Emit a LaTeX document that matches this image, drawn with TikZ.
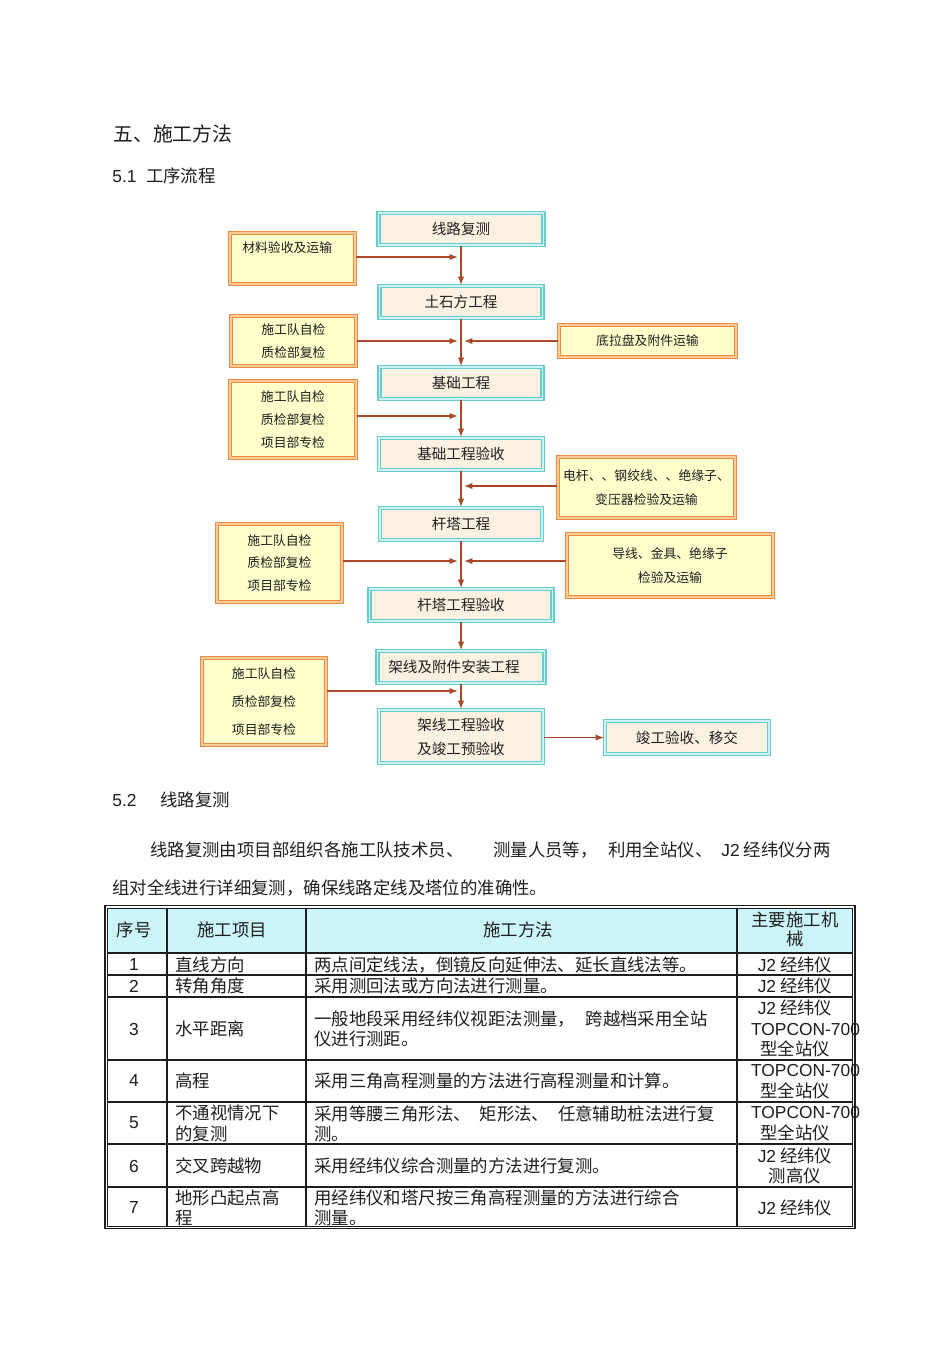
\documentclass[tikz,border=0pt]{standalone}
\usepackage{fontspec}
\setmainfont{Noto Sans CJK SC}
\newfontfamily\lat{Liberation Sans}
\usepackage{tikz}
\usetikzlibrary{arrows.meta}
\definecolor{arrowc}{RGB}{168,72,40}
\definecolor{tealc}{RGB}{105,205,208}
\definecolor{tealgap}{RGB}{205,242,242}
\definecolor{boxfill}{RGB}{250,241,226}
\definecolor{orc}{RGB}{238,138,68}
\definecolor{orgap}{RGB}{252,204,150}
\definecolor{yelfill}{RGB}{255,255,204}
\definecolor{headc}{RGB}{204,245,250}
\definecolor{txtc}{RGB}{30,30,30}
\def\px{0.02cm}

\tikzset{
  main/.style={draw=tealc, double=tealgap, line width=0.6pt,
    double distance=1.1pt, fill=boxfill, inner sep=0pt, align=center,
    text=txtc, font=\fontsize{8.3}{14}\selectfont},
  side/.style={draw=orc, double=orgap, line width=0.6pt,
    double distance=1.1pt, fill=yelfill, inner sep=0pt, align=center,
    text=txtc, font=\fontsize{7.3}{13}\selectfont},
  flow/.style={draw=arrowc, line width=1pt, -{Latex[length=5pt,width=3.6pt]}},
  cell/.style={inner sep=0pt, anchor=west, align=left, text=txtc,
    font=\fontsize{9.9}{11.6}\selectfont},
  mid/.style={cell, anchor=center, align=center},
  rule/.style={line width=0.6pt, draw=txtc}
}

\begin{document}
\begin{tikzpicture}[x=\px, y=-\px]

    \path[fill=white, use as bounding box] (0,0) rectangle (950,1346);

    % page headings
    \node[cell, font=\fontsize{11.3}{13}\selectfont] (sec) at (113,134)
    {五、施工方法};
    \node[cell] (sub1) at (112,176) {{\lat 5.1}\hspace{5.5pt}工序流程};

    % main line of work
    \begin{scope}
        \node[main, minimum width=165*\px, minimum height=32*\px] (b1)
        at (461,229) {线路复测};
        \node[main, minimum width=163*\px, minimum height=32*\px] (b2)
        at (461,302) {土石方工程};
        \node[main, minimum width=163*\px, minimum height=32*\px] (b3)
        at (461,383) {基础工程};
        \node[main, minimum width=164*\px, minimum height=32*\px] (b4)
        at (461,454) {基础工程验收};
        \node[main, minimum width=162*\px, minimum height=32*\px] (b5)
        at (461,524) {杆塔工程};
        \node[main, minimum width=183*\px, minimum height=32*\px] (b6)
        at (461,605) {杆塔工程验收};
        \node[main, minimum width=167*\px, minimum height=32*\px] (b7)
        at (461,667) {架线及附件安装工程\hspace*{8pt}};
        \node[main, minimum width=164*\px, minimum height=53*\px,
        font=\fontsize{8.3}{13.6}\selectfont] (b8)
        at (461,736.5) {架线工程验收\\及竣工预验收};
        \node[main, minimum width=164*\px, minimum height=33*\px] (b9)
        at (687,737.5) {竣工验收、移交};
    \end{scope}

    % checks and deliveries beside the line
    \begin{scope}
        \node[side, minimum width=125*\px, text height=11pt, text depth=17.9pt]
        (mat) at (292.5,258.5) {材料验收及运输\hspace*{6pt}};
        \node[side, minimum width=125*\px, minimum height=50*\px] (chk1)
        at (293.5,341) {施工队自检\\质检部复检};
        \node[side, minimum width=126*\px, minimum height=77*\px] (chk2)
        at (293,419.5) {施工队自检\\质检部复检\\项目部专检};
        \node[side, minimum width=125*\px, minimum height=78*\px] (chk3)
        at (279.5,563) {施工队自检\\质检部复检\\项目部专检};
        \node[side, minimum width=124*\px, minimum height=87*\px,
        font=\fontsize{7.3}{16}\selectfont] (chk4)
        at (264,701.5) {施工队自检\\质检部复检\\项目部专检};

        \node[side, minimum width=177*\px, minimum height=32*\px] (base)
        at (647.5,341) {底拉盘及附件运输};
        \node[side, minimum width=177*\px, minimum height=61*\px,
        font=\fontsize{7.3}{14}\selectfont] (pole)
        at (646.5,487.5) {电杆、、钢绞线、、绝缘子、\\变压器检验及运输};
        \node[side, minimum width=206*\px, minimum height=63*\px,
        font=\fontsize{7.3}{14}\selectfont] (wire)
        at (670,565.5) {导线、金具、绝缘子\\检验及运输};
    \end{scope}

    % points where the side arrows meet the line
    \coordinate (j1) at (461,257);
    \coordinate (j2) at (461,341);
    \coordinate (j3) at (461,416);
    \coordinate (j4) at (461,486);
    \coordinate (j5) at (461,561);
    \coordinate (j6) at (461,691);

    \begin{scope}
        \draw[flow] (b1) -- (b2);
        \draw[flow] (b2) -- (b3);
        \draw[flow] (b3) -- (b4);
        \draw[flow] (b4) -- (b5);
        \draw[flow] (b5) -- (b6);
        \draw[flow] (b6) -- (b7);
        \draw[flow] (b7) -- (b8);
        \draw[flow] (b8.east |- b9) -- (b9);
        \draw[flow, shorten >=1.5pt] (mat.east |- j1) -- (j1);
        \draw[flow, shorten >=1.5pt] (chk1.east |- j2) -- (j2);
        \draw[flow, shorten >=1.5pt] (base.west |- j2) -- (j2);
        \draw[flow, shorten >=1.5pt] (chk2.east |- j3) -- (j3);
        \draw[flow, shorten >=1.5pt] (pole.west |- j4) -- (j4);
        \draw[flow, shorten >=1.5pt] (chk3.east |- j5) -- (j5);
        \draw[flow, shorten >=1.5pt] (wire.west |- j5) -- (j5);
        \draw[flow, shorten >=1.5pt] (chk4.east |- j6) -- (j6);
    \end{scope}

    % 5.2 text
    \node[cell] (sub2) at (112,800) {{\lat 5.2}\hspace{13.5pt}线路复测};
    \node[cell] (par1) at (150,850)
    {线路复测由项目部组织各施工队技术员、\hspace{17pt}测量人员等，\hspace{6pt}利用全站仪、\hspace{5pt}{\lat J2} 经纬仪分两};
    \node[cell] (par2) at (112,888)
    {组对全线进行详细复测，确保线路定线及塔位的准确性。};

    % table frame
    \fill[headc] (107.5,907.5) rectangle (852.5,953);
    \draw[line width=1.1pt, draw=txtc] (105,905.5) rectangle (855,1228.5);
    \draw[line width=0.5pt, draw=txtc] (107.5,908) rectangle (852.5,1226);
    \draw[rule] (107.5,953) -- (852.5,953);
    \draw[rule] (107.5,975) -- (852.5,975);
    \draw[rule] (107.5,997) -- (852.5,997);
    \draw[rule] (107.5,1060) -- (852.5,1060);
    \draw[rule] (107.5,1102) -- (852.5,1102);
    \draw[rule] (107.5,1144) -- (852.5,1144);
    \draw[rule] (107.5,1187) -- (852.5,1187);
    \draw[rule] (167,908) -- (167,1226);
    \draw[rule] (306,908) -- (306,1226);
    \draw[rule] (737,908) -- (737,1226);

    % table head
    \node[mid] (hno) at (134,930) {序号};
    \node[mid] (hitem) at (232,930) {施工项目};
    \node[mid] (hway) at (518,930) {施工方法};
    \node[mid, font=\fontsize{9.9}{10.8}\selectfont] (hmac) at (795,929.5)
    {主要施工机\\械};

    % table rows
    \node[mid] (n1) at (134,965) {\lat 1};
    \node[cell] (i1) at (175,965) {直线方向};
    \node[cell] (w1) at (314,965) {两点间定线法，倒镜反向延伸法、延长直线法等。};
    \node[mid] (m1) at (795,965) {{\lat J2} 经纬仪};

    \node[mid] (n2) at (134,986) {\lat 2};
    \node[cell] (i2) at (175,986) {转角角度};
    \node[cell] (w2) at (314,986) {采用测回法或方向法进行测量。};
    \node[mid] (m2) at (795,986) {{\lat J2} 经纬仪};

    \node[mid] (n3) at (134,1029) {\lat 3};
    \node[cell] (i3) at (175,1029) {水平距离};
    \node[cell] (w3) at (314,1028.5)
    {一般地段采用经纬仪视距法测量，\hspace{6pt}跨越档采用全站\\仪进行测距。};
    \node[mid] (m3) at (795,1028.5)
    {{\lat J2} 经纬仪\\\hspace*{12pt}{\lat TOPCON-700}\\型全站仪};

    \node[mid] (n4) at (134,1081) {\lat 4};
    \node[cell] (i4) at (175,1081) {高程};
    \node[cell] (w4) at (314,1081) {采用三角高程测量的方法进行高程测量和计算。};
    \node[mid] (m4) at (795,1081.5)
    {\hspace*{12pt}{\lat TOPCON-700}\\型全站仪};

    \node[mid] (n5) at (134,1123) {\lat 5};
    \node[cell] (i5) at (175,1123.5) {不通视情况下\\的复测};
    \node[cell] (w5) at (314,1123.5)
    {采用等腰三角形法、\hspace{5pt}矩形法、\hspace{5pt}任意辅助桩法进行复\\测。};
    \node[mid] (m5) at (795,1123.5)
    {\hspace*{12pt}{\lat TOPCON-700}\\型全站仪};

    \node[mid] (n6) at (134,1166) {\lat 6};
    \node[cell] (i6) at (175,1166) {交叉跨越物};
    \node[cell] (w6) at (314,1166) {采用经纬仪综合测量的方法进行复测。};
    \node[mid] (m6) at (795,1166) {{\lat J2} 经纬仪\\测高仪};

    \node[mid] (n7) at (134,1208) {\lat 7};
    \node[cell] (i7) at (175,1208) {地形凸起点高\\程};
    \node[cell] (w7) at (314,1208)
    {用经纬仪和塔尺按三角高程测量的方法进行综合\\测量。};
    \node[mid] (m7) at (795,1208) {{\lat J2} 经纬仪};

\end{tikzpicture}
\end{document}
